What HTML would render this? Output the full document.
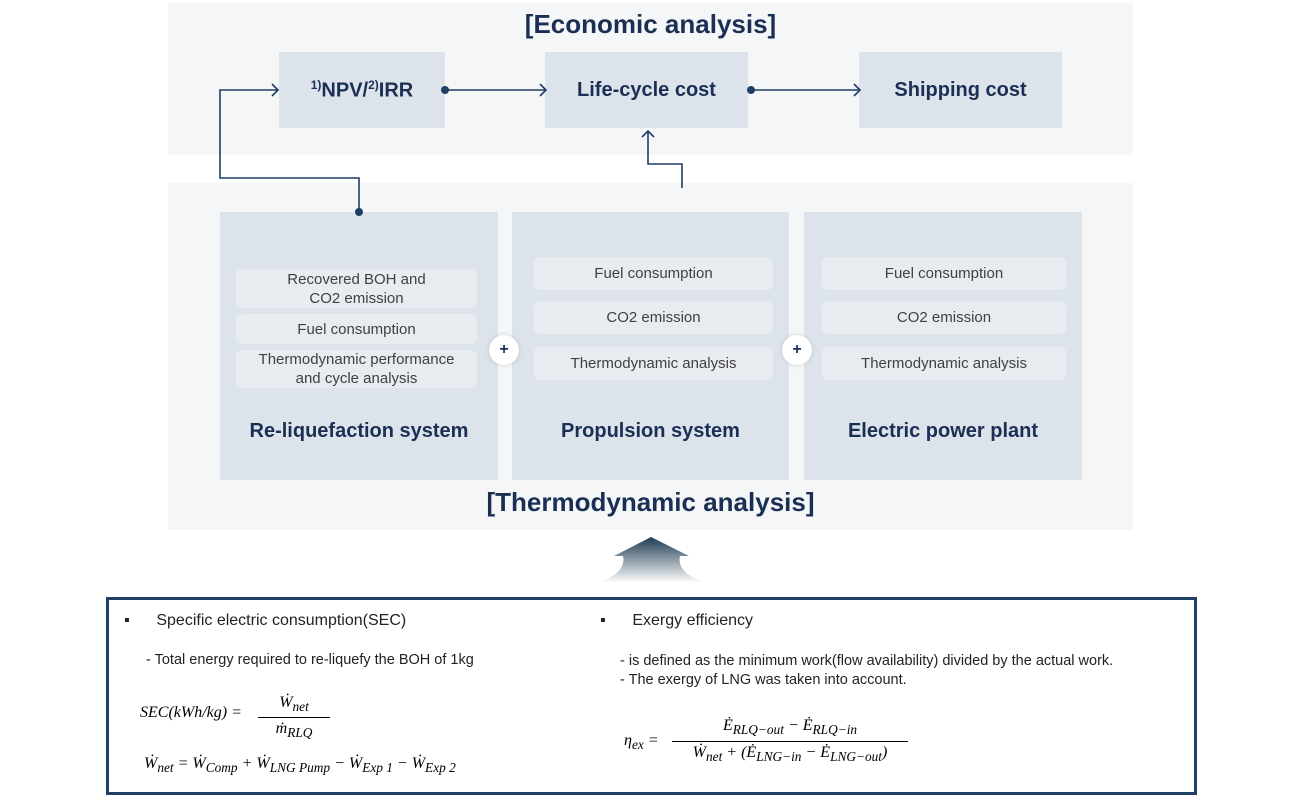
<!DOCTYPE html>
<html><head><meta charset="utf-8"><style>
body{margin:0;width:1305px;height:797px;background:#fff;position:relative;overflow:hidden;font-family:"Liberation Sans",sans-serif;}
.a{position:absolute;}
.panel{background:#f4f6f8;}
.box{background:#dce3ea;color:#1b2f55;font-weight:bold;font-size:20px;display:flex;align-items:center;justify-content:center;}
.ib{background:#e8ecf1;border-radius:6px;color:#404040;font-size:15px;text-align:center;display:flex;align-items:center;justify-content:center;line-height:19px;}
.title{color:#1b2f55;font-weight:bold;font-size:26px;text-align:center;}
.sys{color:#1b2f55;font-weight:bold;font-size:20px;text-align:center;}
.plus{width:30px;height:30px;border-radius:50%;background:#fff;box-shadow:0 0 4px rgba(0,0,0,.15);color:#1b2f55;font-weight:bold;font-size:16px;display:flex;align-items:center;justify-content:center;}
.m{font-family:"Liberation Serif",serif;font-style:italic;}
</style></head><body>
<div class="a panel" style="left:168px;top:3px;width:965px;height:152px"></div>
<div class="a panel" style="left:168px;top:183px;width:965px;height:347px"></div>
<div class="a title" style="left:168px;top:9px;width:965px">[Economic analysis]</div>
<div class="a box" style="left:279px;top:52px;width:166px;height:76px"><span><sup style="font-size:12px">1)</sup>NPV/<sup style="font-size:12px">2)</sup>IRR</span></div>
<div class="a box" style="left:545px;top:52px;width:203px;height:76px">Life-cycle cost</div>
<div class="a box" style="left:859px;top:52px;width:203px;height:76px">Shipping cost</div>
<div class="a box" style="left:220px;top:212px;width:278px;height:268px"></div>
<div class="a box" style="left:512px;top:212px;width:277px;height:268px"></div>
<div class="a box" style="left:804px;top:212px;width:278px;height:268px"></div>
<div class="a ib" style="left:236px;top:269px;width:241px;height:39px">Recovered BOH and<br>CO2 emission</div>
<div class="a ib" style="left:236px;top:314px;width:241px;height:30px">Fuel consumption</div>
<div class="a ib" style="left:236px;top:350px;width:241px;height:38px">Thermodynamic performance<br>and cycle analysis</div>
<div class="a ib" style="left:534px;top:257px;width:239px;height:33px">Fuel consumption</div>
<div class="a ib" style="left:534px;top:301px;width:239px;height:33px">CO2 emission</div>
<div class="a ib" style="left:534px;top:347px;width:239px;height:33px">Thermodynamic analysis</div>
<div class="a ib" style="left:822px;top:257px;width:244px;height:33px">Fuel consumption</div>
<div class="a ib" style="left:822px;top:301px;width:244px;height:33px">CO2 emission</div>
<div class="a ib" style="left:822px;top:347px;width:244px;height:33px">Thermodynamic analysis</div>
<div class="a plus" style="left:489px;top:335px">+</div>
<div class="a plus" style="left:782px;top:335px">+</div>
<div class="a sys" style="left:220px;top:420px;width:278px">Re-liquefaction system</div>
<div class="a sys" style="left:512px;top:420px;width:277px">Propulsion system</div>
<div class="a sys" style="left:804px;top:420px;width:278px">Electric power plant</div>
<div class="a title" style="left:168px;top:487px;width:965px">[Thermodynamic analysis]</div>
<svg class="a" style="left:0;top:0" width="1305" height="600">
<defs><linearGradient id="g" x1="0" y1="0" x2="0" y2="1"><stop offset="0" stop-color="#1e3a52"/><stop offset="1" stop-color="#fff"/></linearGradient></defs>
<g stroke="#1f3f66" stroke-width="1.6" fill="none">
<path d="M359 212V178H220V90H278"/><path d="M272 84l6 6-6 6"/>
<path d="M445 90H546"/><path d="M540 84l6 6-6 6"/>
<path d="M751 90H860"/><path d="M854 84l6 6-6 6"/>
<path d="M682 188V164H648V131"/><path d="M642 137l6-6 6 6"/>
</g>
<g fill="#1f3f66"><circle cx="359" cy="212" r="4"/><circle cx="445" cy="90" r="4"/><circle cx="751" cy="90" r="4"/></g>
<path d="M651 537L689 556H680Q676 573 706 583H597Q627 573 623 556H614Z" fill="url(#g)"/>
</svg>
<div class="a" style="left:106px;top:597px;width:1085px;height:192px;border:3px solid #1f3f66"></div>
<div class="a" style="left:124px;top:612px;font-size:16px;color:#222">▪&nbsp;&nbsp;&nbsp;&nbsp;&nbsp;&nbsp;Specific electric consumption(SEC)</div>
<div class="a" style="left:146px;top:652px;font-size:14.5px;color:#222">- Total energy required to re-liquefy the BOH of 1kg</div>
<div class="a m" style="left:140px;top:704px;font-size:16px">SEC(kWh/kg) =</div>
<div class="a m" style="left:258px;top:692px;font-size:16px;text-align:center;width:72px;line-height:21px"><div style="border-bottom:1px solid #000">Ẇ<sub>net</sub></div><div>ṁ<sub>RLQ</sub></div></div>
<div class="a m" style="left:144px;top:755px;font-size:16px">Ẇ<sub>net</sub> = Ẇ<sub>Comp</sub> + Ẇ<sub>LNG Pump</sub> − Ẇ<sub>Exp 1</sub> − Ẇ<sub>Exp 2</sub></div>
<div class="a" style="left:600px;top:612px;font-size:16px;color:#222">▪&nbsp;&nbsp;&nbsp;&nbsp;&nbsp;&nbsp;Exergy efficiency</div>
<div class="a" style="left:620px;top:652px;font-size:14.5px;color:#222;line-height:19px">- is defined as the minimum work(flow availability) divided by the actual work.<br>- The exergy of LNG was taken into account.</div>
<div class="a m" style="left:624px;top:732px;font-size:16px">η<sub>ex</sub> =</div>
<div class="a m" style="left:672px;top:715px;font-size:16px;text-align:center;width:236px;line-height:22px"><div style="border-bottom:1px solid #000">Ė<sub>RLQ−out</sub> − Ė<sub>RLQ−in</sub></div><div>Ẇ<sub>net</sub> + (Ė<sub>LNG−in</sub> − Ė<sub>LNG−out</sub>)</div></div>
</body></html>
